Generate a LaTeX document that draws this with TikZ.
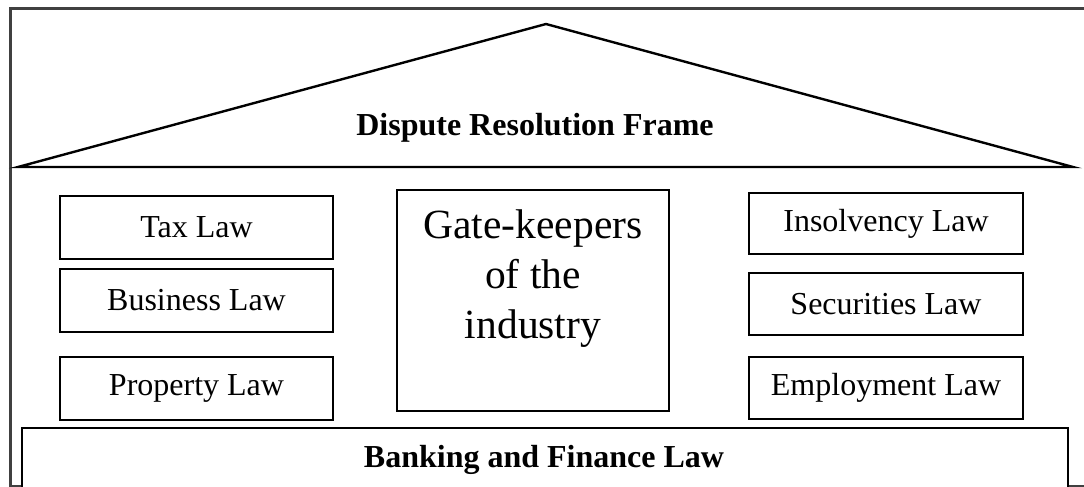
\documentclass[tikz,border=0pt]{standalone}
\usepackage{fontspec}
\setmainfont{Liberation Serif}
\begin{document}
\begin{tikzpicture}[x=1pt,y=-1pt,
  frameline/.style={line width=2.2pt,draw=black!75},
  lawbox/.style={draw,line width=2.2pt,minimum width=273pt,minimum height=63pt,
    inner sep=0pt,font=\fontsize{32}{38}\selectfont},
  bigbox/.style={draw,line width=2.2pt,inner sep=0pt},
  boldlabel/.style={font=\fontsize{32}{38}\selectfont\bfseries,inner sep=0pt,anchor=base}]
\useasboundingbox (0,0) rectangle (1084,487);
\clip (0,0) rectangle (1084,487);

% outer frame (runs off the right-hand side)
\coordinate (ftl) at (10.5,8.5);
\coordinate (ftr) at (1100,8.5);
\coordinate (fbl) at (10.5,486);
\coordinate (fbr) at (1100,486);
\draw[frameline] (ftr) -- (ftl) -- (fbl) -- (fbr);

% roof
\coordinate (roofL) at (18,167);
\coordinate (roofT) at (546,24);
\coordinate (roofR) at (1073,167);
\draw[line width=2.4pt,line join=miter] (roofL) -- (roofT) -- (roofR) -- cycle;
\node[boldlabel] (dispute) at (535,135) {Dispute Resolution Frame};

% left pillars
\node[lawbox] (tax) at (196.5,227.5) {Tax Law};
\node[lawbox] (business) at (196.5,300.5) {Business Law};
\node[lawbox] (property) at (196.5,388.5) {Property Law};

% right pillars
\node[lawbox,minimum width=274pt,minimum height=61pt] (insolvency) at (886,223.5) {Insolvency Law};
\node[lawbox,minimum width=274pt,minimum height=62pt] (securities) at (886,304) {Securities Law};
\node[lawbox,minimum width=274pt,minimum height=62pt] (employment) at (886,388) {Employment Law};

% centre block
\node[bigbox,minimum width=272pt,minimum height=221pt] (gate) at (533,300.5) {};
\node[align=center,inner sep=0pt,font=\fontsize{41.5}{50}\selectfont] (gatetext) at (533,279)
  {Gate-keepers\\of the\\industry};

% foundation
\node[bigbox,fill=white,minimum width=1046pt,minimum height=80pt,anchor=north] (bank) at (545,427) {};
\node[boldlabel] (banktext) at (544,467) {Banking and Finance Law};
\end{tikzpicture}
\end{document}
